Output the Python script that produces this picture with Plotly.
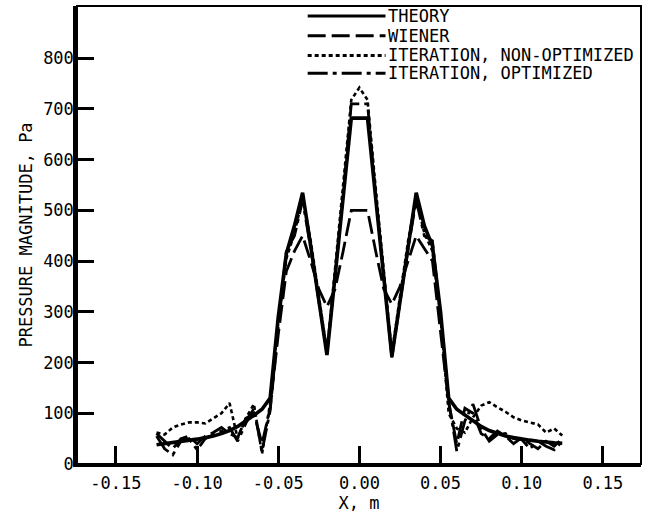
import plotly.graph_objects as go

# ---- data ----
x_m = [-0.125, -0.12, -0.115, -0.11, -0.105, -0.1, -0.095, -0.09, -0.085, -0.08,
       -0.075, -0.07, -0.065, -0.06, -0.055, -0.05, -0.045, -0.04, -0.035, -0.03,
       -0.025, -0.02, -0.015, -0.01, -0.005, 0.0, 0.005, 0.01, 0.015, 0.02,
       0.025, 0.03, 0.035, 0.04, 0.045, 0.05, 0.055, 0.06, 0.065, 0.07,
       0.075, 0.08, 0.085, 0.09, 0.095, 0.1, 0.105, 0.11, 0.115, 0.12, 0.125]

theory = [38, 40, 42, 44, 46, 49, 52, 55, 60, 66,
          74, 84, 96, 108, 130, 290, 415, 470, 535, 430,
          320, 215, 370, 525, 682, 682, 682, 525, 370, 212,
          320, 430, 535, 470, 430, 300, 130, 108, 96, 84,
          74, 66, 60, 55, 52, 49, 47, 45, 43, 42, 41]

wiener = [60, 45, 30, 50, 55, 40, 55, 62, 72, 60,
          52, 90, 100, 40, 110, 255, 380, 420, 450, 400,
          345, 310, 345, 420, 500, 500, 500, 420, 345, 315,
          350, 400, 450, 425, 400, 260, 120, 40, 110, 100,
          60, 50, 65, 55, 40, 52, 40, 30, 45, 35, 50]

iter_nonopt = [62, 58, 72, 78, 82, 82, 80, 90, 100, 120,
               50, 90, 118, 20, 120, 280, 405, 455, 525, 440,
               330, 222, 385, 545, 718, 742, 718, 545, 385, 218,
               330, 440, 525, 455, 420, 290, 100, 70, 62, 92,
               115, 122, 112, 103, 92, 86, 82, 78, 62, 70, 56]

iter_opt = [55, 30, 18, 45, 50, 28, 50, 58, 65, 72,
            45, 80, 110, 25, 105, 270, 420, 450, 520, 425,
            318, 218, 372, 532, 710, 710, 710, 532, 372, 210,
            318, 425, 520, 450, 440, 290, 125, 25, 85, 118,
            70, 45, 58, 60, 50, 48, 30, 45, 35, 28, 45]

series_names = ["THEORY", "WIENER", "ITERATION, NON-OPTIMIZED", "ITERATION, OPTIMIZED"]
x_ticks = [-0.15, -0.10, -0.05, 0.00, 0.05, 0.10, 0.15]
x_ticktext = ["-0.15", "-0.10", "-0.05", "0.00", "0.05", "0.10", "0.15"]
y_ticks = [0, 100, 200, 300, 400, 500, 600, 700, 800]

# ---- styles ----
FONT = "DejaVu Sans Mono"
styles = [
    dict(color="black", width=3.6, dash="solid"),
    dict(color="black", width=2.8, dash="18px,6px"),
    dict(color="black", width=2.6, dash="4px,3px"),
    dict(color="black", width=2.8, dash="20px,5px,4px,5px"),
]
values = [theory, wiener, iter_nonopt, iter_opt]

fig = go.Figure()
for name, yv, st in zip(series_names, values, styles):
    fig.add_trace(go.Scatter(x=x_m, y=yv, mode="lines", name=name,
                             line=st, showlegend=False, hoverinfo="skip"))

# custom legend (line samples + labels) at top centre of the plot
leg_y = [0.978, 0.935, 0.892, 0.853]
for name, st, ly in zip(series_names, styles, leg_y):
    fig.add_shape(type="line", xref="paper", yref="paper",
                  x0=0.409, x1=0.547, y0=ly, y1=ly,
                  line=dict(color="black", width=3, dash=st["dash"]))
    fig.add_annotation(xref="paper", yref="paper", x=0.549, y=ly,
                       text=name, showarrow=False, xanchor="left",
                       yanchor="middle", xshift=-1,
                       font=dict(family=FONT, size=17, color="black"))

# thin frame for top/right
fig.add_shape(type="rect", xref="paper", yref="paper", x0=0, x1=1, y0=0, y1=1,
              line=dict(color="black", width=2), layer="above")

fig.update_layout(
    width=649, height=515,
    margin=dict(l=77, r=8, t=6, b=51),
    paper_bgcolor="white", plot_bgcolor="white",
    font=dict(family=FONT, size=17, color="black"),
    showlegend=False,
)
fig.update_xaxes(
    automargin=False,
    range=[-0.174, 0.1735], tickvals=x_ticks, ticktext=x_ticktext,
    showgrid=False, zeroline=False, showline=True, linecolor="black",
    linewidth=3, ticks="inside", ticklen=18, tickwidth=2.5, tickcolor="black",
    ticklabelstandoff=2,
    title=dict(text="X, m", standoff=1, font=dict(family=FONT, size=17)),
    tickfont=dict(family=FONT, size=17),
)
fig.update_yaxes(
    automargin=False,
    range=[0, 903], tickvals=y_ticks,
    showgrid=False, zeroline=False, showline=True, linecolor="black",
    linewidth=3.5, ticks="inside", ticklen=17, tickwidth=3, tickcolor="black",
    ticklabelstandoff=-4,
    title=dict(text="PRESSURE MAGNITUDE, Pa", standoff=7,
               font=dict(family=FONT, size=17)),
    tickfont=dict(family=FONT, size=17),
)

fig.write_html("out.html", config={"displayModeBar": False},
               post_script="document.body.style.margin='0px';")
